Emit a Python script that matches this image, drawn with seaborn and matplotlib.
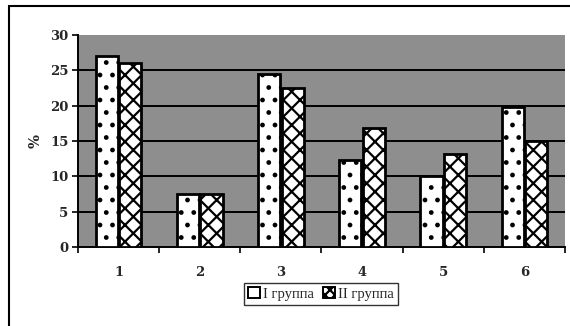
import matplotlib
matplotlib.use("Agg")
import matplotlib.pyplot as plt
from matplotlib.patches import Rectangle, Patch
import numpy as np
import pandas as pd
import seaborn as sns

# Data
categories = ["1", "2", "3", "4", "5", "6"]
group_names = ["I группа", "II группа"]
group1 = [27.0, 7.5, 24.5, 12.3, 10.0, 19.8]
group2 = [26.0, 7.5, 22.5, 16.9, 13.2, 15.0]
y_ticks = [0, 5, 10, 15, 20, 25, 30]

df = pd.DataFrame({
    "cat": categories * 2,
    "group": [group_names[0]] * len(categories) + [group_names[1]] * len(categories),
    "value": group1 + group2,
})

# Rendered at 150 dpi so the hatch patterns come out coarser; point sizes
# below are given as 100-dpi equivalents and scaled by S.
DPI = 150
S = 100 / DPI
W, H = 570, 326

sns.set_style("white")
plt.rcParams["font.family"] = ["Liberation Serif", "DejaVu Serif"]
plt.rcParams["hatch.linewidth"] = 1.6 * S

fig = plt.figure(figsize=(W / DPI, H / DPI), dpi=DPI)
ax = fig.add_axes([78 / W, 1 - 247 / H, (565 - 78) / W, (247 - 35) / H])
ax.set_facecolor("#8e8e8e")

sns.barplot(data=df, x="cat", y="value", hue="group", order=categories,
            hue_order=group_names, palette=["white", "white"], width=0.58,
            gap=0.06, edgecolor="black", linewidth=2.0 * S, ax=ax, legend=False,
            zorder=3)

hatches = ["..", "xxx"]
for container, h in zip(ax.containers, hatches):
    for bar in container:
        bar.set_hatch(h)
        bar.set_edgecolor("black")

num_font = dict(family=["DejaVu Serif"], size=9.5 * S, weight="bold")

ax.set_ylim(0, 30)
ax.set_xlim(-0.5, len(categories) - 0.5)
ax.set_yticks(y_ticks)
ax.set_yticklabels([str(t) for t in y_ticks], fontdict=num_font)
ax.set_xticks(range(len(categories)))
ax.set_xticklabels(categories, fontdict=num_font)
ax.set_xticks(np.arange(-0.5, len(categories) + 0.5, 1), minor=True)
ax.tick_params(axis="x", which="major", length=0, pad=14 * S)
ax.tick_params(axis="x", which="minor", length=4 * S, width=1.2 * S, color="black",
               direction="out", bottom=True)
ax.tick_params(axis="y", length=4 * S, width=1.2 * S, color="black", direction="out",
               left=True, pad=3 * S)

for y in y_ticks[1:-1]:
    ax.axhline(y, color="black", linewidth=1.4 * S, zorder=1)

for side in ["top", "right"]:
    ax.spines[side].set_visible(False)
for side in ["left", "bottom"]:
    ax.spines[side].set_color("black")
    ax.spines[side].set_linewidth(1.4 * S)

ax.set_xlabel("")
ax.set_ylabel("%", fontdict=dict(family=["DejaVu Serif"], size=10.5 * S, weight="bold"),
              labelpad=5 * S)

handles = [Patch(facecolor="white", edgecolor="black", hatch=h, linewidth=1.4 * S)
           for h in ["", "xxxxx"]]
leg = fig.legend(handles, group_names, loc="center", bbox_to_anchor=(321 / W, 1 - 294 / H),
                 ncol=2, frameon=True, prop=dict(family=["Liberation Serif"], size=10.5 * S),
                 handlelength=0.8, handleheight=0.8,
                 handletextpad=0.25, columnspacing=0.6, borderpad=0.3, fancybox=False)
leg.get_frame().set_edgecolor("black")
leg.get_frame().set_linewidth(1.0 * S)

# outer chart frame (left and top edges visible)
fig.add_artist(Rectangle((9 / W, -0.1), 1.2, 1 - 6 / H + 0.1,
                         transform=fig.transFigure, fill=False,
                         edgecolor="black", linewidth=1.5 * S))

fig.savefig("out.png", dpi=DPI)
